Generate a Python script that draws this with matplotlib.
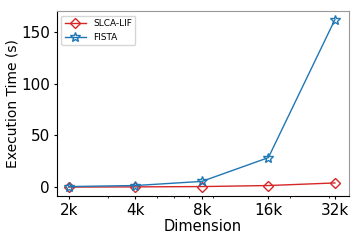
import matplotlib
matplotlib.use('Agg')
import matplotlib.pyplot as plt
import numpy as np

# données
dims = [2000, 4000, 8000, 16000, 32000]
dim_labels = ['2k', '4k', '8k', '16k', '32k']
slca_lif = [0.0, 0.2, 0.5, 1.5, 4.0]
fista = [0.5, 1.5, 5.5, 28.5, 162.0]

fig, ax = plt.subplots(figsize=(3.6, 2.4), dpi=100)

ax.plot(dims, slca_lif, color='tab:red', marker='D', markersize=5.5,
        markerfacecolor='none', linewidth=1.0, label='SLCA-LIF')
ax.plot(dims, fista, color='tab:blue', marker='*', markersize=7.5,
        markerfacecolor='none', linewidth=1.0, label='FISTA')

ax.set_xscale('log')
ax.set_xticks(dims)
ax.set_xticklabels(dim_labels)
ax.set_xlim(1766, 37000)
ax.set_ylim(-8.7, 170.3)
ax.set_yticks([0, 50, 100, 150])

ax.tick_params(axis='both', which='major', labelsize=11, length=2.5, pad=2.5)
ax.tick_params(axis='both', which='minor', length=1.5)
ax.set_xlabel('Dimension', fontsize=10.5, labelpad=1)
ax.set_ylabel('Execution Time (s)', fontsize=10, labelpad=1)

for side in ['top', 'right']:
    ax.spines[side].set_color('0.6')

ax.legend(loc='upper left', fontsize=6.5, handlelength=2.3)

plt.subplots_adjust(left=0.158, right=0.969, top=0.954, bottom=0.183)
plt.savefig('out.png', dpi=100)
